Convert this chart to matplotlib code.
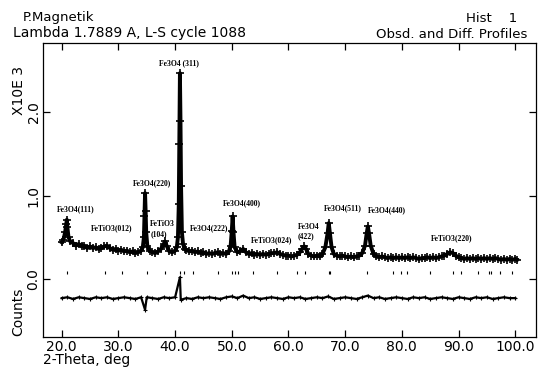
import matplotlib
matplotlib.use('Agg')
import matplotlib.pyplot as plt

two_theta = [20.0, 20.3, 20.6, 20.8, 20.9, 21.0, 21.2, 21.5, 22.0, 22.5, 23.0, 23.5, 24.0, 24.5,
             25.0, 25.5, 26.0, 26.5, 27.0, 27.5, 28.0, 28.5, 29.0, 29.5,
             30.0, 30.5, 31.0, 31.5, 32.0, 32.5, 33.0, 33.5, 34.0, 34.3, 34.5, 34.6, 34.7, 34.8, 34.9,
             35.1, 35.5, 36.0, 36.5, 37.0, 37.5, 38.0, 38.2, 38.5, 39.0, 39.5, 40.0, 40.3, 40.5,
             40.65, 40.75, 40.85, 40.95, 41.05, 41.2, 41.4, 41.7,
             42.0, 42.5, 43.0, 43.5, 44.0, 44.5, 45.0, 45.5, 46.0, 46.5, 47.0, 47.5, 48.0, 48.5,
             49.0, 49.5, 49.8, 50.0, 50.15, 50.3, 50.5,
             51.0, 51.5, 52.0, 52.5, 53.0, 53.5, 54.0, 54.5, 55.0, 55.5, 56.0, 56.5, 57.0, 57.5,
             58.0, 58.5, 59.0, 59.5,
             60.0, 60.5, 61.0, 61.5, 62.0, 62.4, 62.8, 63.1, 63.5, 64.0, 64.5, 65.0, 65.5, 66.0,
             66.5, 66.9, 67.1, 67.3, 67.6, 68.0, 68.5, 69.0, 69.5,
             70.0, 70.5, 71.0, 71.5, 72.0, 72.5, 73.0, 73.5, 73.8, 74.0, 74.2, 74.5, 75.0, 75.5,
             76.0, 76.5, 77.0, 77.5, 78.0, 78.5, 79.0, 79.5,
             80.0, 80.5, 81.0, 81.5, 82.0, 82.5, 83.0, 83.5, 84.0, 84.5, 85.0, 85.5, 86.0, 86.5,
             87.0, 87.5, 88.0, 88.5, 89.0, 89.5,
             90.0, 90.5, 91.0, 91.5, 92.0, 92.5, 93.0, 93.5, 94.0, 94.5, 95.0, 95.5, 96.0, 96.5,
             97.0, 97.5, 98.0, 98.5, 99.0, 99.5, 100.0, 100.3]
obs = [0.44, 0.47, 0.56, 0.66, 0.71, 0.62, 0.50, 0.45, 0.43, 0.40, 0.42, 0.39, 0.40, 0.37,
       0.39, 0.37, 0.38, 0.36, 0.37, 0.39, 0.40, 0.37, 0.35, 0.36,
       0.34, 0.35, 0.33, 0.34, 0.32, 0.33, 0.31, 0.32, 0.34, 0.38, 0.50, 0.76, 1.03, 0.82, 0.56,
       0.40, 0.34, 0.32, 0.31, 0.33, 0.36, 0.42, 0.45, 0.40, 0.33, 0.32, 0.34, 0.38, 0.50,
       0.90, 1.62, 2.47, 1.90, 1.12, 0.56, 0.42, 0.36,
       0.35, 0.33, 0.34, 0.32, 0.33, 0.31, 0.32, 0.30, 0.31, 0.30, 0.31, 0.32, 0.30, 0.31,
       0.30, 0.33, 0.40, 0.58, 0.75, 0.56, 0.38,
       0.32, 0.33, 0.36, 0.32, 0.30, 0.31, 0.29, 0.30, 0.29, 0.30, 0.29, 0.30, 0.31, 0.31,
       0.32, 0.30, 0.29, 0.28,
       0.28, 0.27, 0.28, 0.29, 0.32, 0.36, 0.39, 0.36, 0.30, 0.28, 0.27, 0.28, 0.27, 0.30,
       0.38, 0.55, 0.67, 0.55, 0.38, 0.30, 0.28, 0.27, 0.28,
       0.27, 0.26, 0.27, 0.26, 0.27, 0.28, 0.31, 0.40, 0.55, 0.63, 0.55, 0.40, 0.30, 0.27,
       0.26, 0.27, 0.26, 0.25, 0.26, 0.25, 0.26, 0.25,
       0.26, 0.25, 0.26, 0.25, 0.26, 0.25, 0.24, 0.25, 0.25, 0.26, 0.25, 0.26, 0.25, 0.26,
       0.27, 0.28, 0.30, 0.32, 0.31, 0.28,
       0.26, 0.25, 0.24, 0.25, 0.24, 0.25, 0.24, 0.25, 0.24, 0.25, 0.24, 0.25, 0.24, 0.25,
       0.24, 0.23, 0.24, 0.23, 0.24, 0.23, 0.24, 0.23]

# difference curve (obs - calc)
diff_x = [20, 21, 22, 23, 24, 25, 26, 27, 28, 29, 30, 31, 32, 33, 34, 34.7, 35, 36, 37, 38, 39,
          40, 40.85, 41, 42, 43, 44, 45, 46, 47, 48, 49, 50, 51, 52, 53, 54, 55, 56, 57, 58, 59,
          60, 61, 62, 63, 64, 65, 66, 67, 68, 69, 70, 71, 72, 73, 74, 75, 76, 77, 78, 79,
          80, 81, 82, 83, 84, 85, 86, 87, 88, 89, 90, 91, 92, 93, 94, 95, 96, 97, 98, 99, 100]
diff_y = [-0.23, -0.22, -0.24, -0.22, -0.23, -0.24, -0.22, -0.23, -0.22, -0.24, -0.23, -0.22,
          -0.23, -0.24, -0.22, -0.37, -0.22, -0.23, -0.24, -0.22, -0.23,
          -0.22, 0.02, -0.25, -0.23, -0.24, -0.22, -0.23, -0.22, -0.23, -0.24, -0.22, -0.21,
          -0.23, -0.20, -0.23, -0.22, -0.24, -0.23, -0.22, -0.23, -0.24,
          -0.22, -0.23, -0.22, -0.24, -0.23, -0.22, -0.23, -0.21, -0.24, -0.23, -0.22, -0.23,
          -0.24, -0.22, -0.20, -0.23, -0.22, -0.24, -0.23, -0.22,
          -0.23, -0.24, -0.22, -0.23, -0.22, -0.24, -0.23, -0.22, -0.23, -0.24, -0.22, -0.23,
          -0.24, -0.22, -0.23, -0.22, -0.24, -0.23, -0.22, -0.23, -0.23]

# reflection marker positions
refl_pos = [20.9, 27.6, 30.6, 35.0, 38.2, 40.8, 41.6, 43.1, 47.5, 50.0, 50.6, 51.1, 53.7,
            58.0, 61.5, 63.0, 67.1, 67.3, 73.8, 78.5, 79.9, 80.9, 85.0, 89.1, 90.5, 93.5,
            95.3, 95.8, 97.3, 99.4]

# peak labels
peak_labels = ['Fe3O4(111)', 'FeTiO3(012)', 'Fe3O4(220)', 'FeTiO3\n(104)', 'Fe3O4 (311)',
               'Fe3O4(222)', 'Fe3O4(400)', 'FeTiO3(024)', 'Fe3O4\n(422)', 'Fe3O4(511)',
               'Fe3O4(440)', 'FeTiO3(220)']
label_x = [22.5, 28.8, 36.0, 35.6, 40.6, 46.0, 51.8, 57.0, 61.7, 69.5, 77.4, 88.8]
label_y = [0.84, 0.61, 1.15, 0.60, 2.59, 0.61, 0.91, 0.47, 0.57, 0.85, 0.82, 0.49]
label_ha = ['center', 'center', 'center', 'left', 'center', 'center', 'center', 'center',
            'left', 'center', 'center', 'center']

xticks = [20, 30, 40, 50, 60, 70, 80, 90, 100]
yticks = [0, 1, 2]

fig = plt.figure(figsize=(5.48, 3.69), dpi=100)
ax = fig.add_axes([0.079, 0.086, 0.899, 0.797])

ax.plot(two_theta, obs, color='black', lw=2.8, marker='+', ms=6, mew=1.2)
ax.plot(diff_x, diff_y, color='black', lw=1.6, marker='+', ms=3.5, mew=0.8)
ax.vlines(refl_pos, 0.055, 0.09, color='black', lw=0.8)

for t, x, y, ha in zip(peak_labels, label_x, label_y, label_ha):
    ax.text(x, y, t, ha=ha, va='center', fontsize=5.5, fontweight='bold',
            family='Liberation Serif', linespacing=1.3)

ax.set_xlim(16.75, 103.65)
ax.set_ylim(-0.70, 2.83)
ax.set_xticks(xticks)
ax.set_xticklabels(['%.1f' % v for v in xticks], fontsize=10)
ax.set_yticks(yticks)
ax.set_yticklabels(['%.1f' % v for v in yticks], fontsize=10, rotation=90, va='center')
ax.tick_params(direction='in', top=True, right=True, length=5, width=0.9, pad=2)
for s in ax.spines.values():
    s.set_linewidth(0.9)

fig.text(0.042, 0.953, 'P.Magnetik', fontsize=9.5, va='center')
fig.text(0.024, 0.910, 'Lambda 1.7889 A, L-S cycle 1088', fontsize=10, va='center')
fig.text(0.943, 0.950, 'Hist    1', fontsize=9.5, va='center', ha='right')
fig.text(0.962, 0.906, 'Obsd. and Diff. Profiles', fontsize=9.5, va='center', ha='right')
fig.text(0.034, 0.756, 'X10E 3', fontsize=10, va='center', ha='center', rotation=90)
fig.text(0.034, 0.155, 'Counts', fontsize=10, va='center', ha='center', rotation=90)
fig.text(0.079, 0.024, '2-Theta, deg', fontsize=10, va='center', ha='left')

fig.savefig('out.png', dpi=100)
